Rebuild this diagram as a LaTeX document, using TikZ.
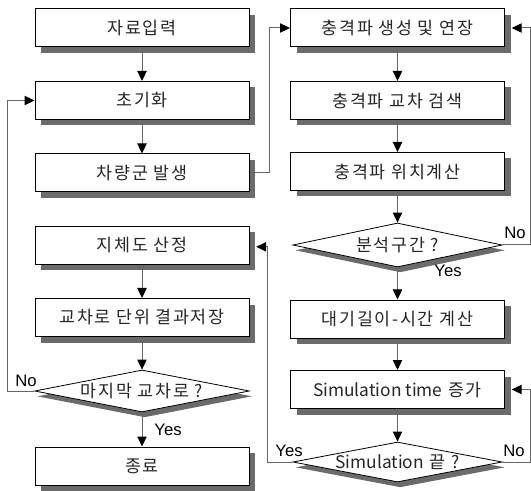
\documentclass[tikz,border=0pt]{standalone}
\usepackage{fontspec}
\setmainfont{Noto Sans CJK KR}[LetterSpace=10]
\newfontfamily\latn{Noto Sans CJK KR}
\newfontfamily\labfont{Liberation Sans}
\usetikzlibrary{shapes.geometric,shadows,arrows.meta}
\begin{document}
\begin{tikzpicture}[x=0.75pt,y=-0.75pt,
 box/.style={draw=black, line width=0.75pt, fill=white, minimum width=160.5pt, minimum height=28.5pt, inner sep=0pt,
   font=\fontsize{13}{15}\selectfont, text=black!85,
   drop shadow={shadow xshift=4.5pt, shadow yshift=-4.5pt, fill=black!58, opacity=1}},
 dia/.style={diamond, draw=black, line width=0.6pt, fill=white, inner sep=0pt,
   drop shadow={shadow xshift=2pt, shadow yshift=-4pt, fill=black!58, opacity=1}},
 dtext/.style={font=\fontsize{13}{15}\selectfont, inner sep=0pt, text=black!85},
 conn/.style={draw=black!60, line width=0.75pt, -{Triangle[length=7.5pt,width=7pt,color=black]}},
 lbl/.style={font=\labfont\fontsize{12.5}{14}\selectfont, inner sep=0pt}]
\useasboundingbox (0,0) rectangle (531,491);

% left column
\node[box] (b1) at (142,28) {자료입력};
\node[box] (b2) at (142,100.5) {초기화};
\node[box] (b3) at (142,173) {차량군 발생};
\node[box] (b4) at (142,245.5) {지체도 산정};
\node[box] (b5) at (142,317.5) {교차로 단위 결과저장};
\node[dia, minimum width=161pt, minimum height=31.5pt,
  label={[dtext]center:마지막 교차로 ?}] (dL) at (142,391) {};
\node[box] (b6) at (142,466) {종료};

% right column
\node[box] (r1) at (397.5,28) {충격파 생성 및 연장};
\node[box] (r2) at (397.5,100.5) {충격파 교차 검색};
\node[box] (r3) at (397.5,171.5) {충격파 위치계산};
\node[dia, minimum width=157pt, minimum height=33pt,
  label={[dtext]center:분석구간 ?}] (dR) at (397.5,245) {};
\node[box] (r4) at (397.5,319) {대기길이-시간 계산};
\node[box] (r5) at (397.5,389.5) {{\latn Simulation time} 증가};
\node[dia, minimum width=157pt, minimum height=30pt,
  label={[dtext]center:{\latn Simulation} 끝 ?}] (dS) at (397.5,462) {};

% straight connectors
\draw[conn] (b1.south) -- (b2.north);
\draw[conn] (b2.south) -- (b3.north);
\draw[conn] (b4.south) -- (b5.north);
\draw[conn] (b5.south) -- (dL.north);
\draw[conn] (dL.south) -- (b6.north);
\draw[conn] (r1.south) -- (r2.north);
\draw[conn] (r2.south) -- (r3.north);
\draw[conn] (r3.south) -- (dR.north);
\draw[conn] (dR.south) -- (r4.north);
\draw[conn] (r4.south) -- (r5.north);
\draw[conn] (r5.south) -- (dS.north);

% loops
\draw[conn] (b3.east) -- ++(20,0) |- (r1.west);
\draw[conn] (dR.east) -- ++(28,0) |- ([xshift=5pt]r1.east);
\draw[conn] (dS.east) -- ++(28,0) |- ([xshift=5pt]r5.east);
\draw[conn] (dS.west) -- ++(-25,0) |- ([xshift=5pt,yshift=-1pt]b4.east);
\draw[conn] (dL.west) -- ++(-27,0) |- (b2.west);

% labels
\node[lbl] (nL) at (26,381) {No};
\node[lbl] (yL) at (168,430) {Yes};
\node[lbl] (nR) at (515,233) {No};
\node[lbl] (yR) at (448,271) {Yes};
\node[lbl] (yS) at (289,451) {Yes};
\node[lbl] (nS) at (514,451) {No};
\end{tikzpicture}
\end{document}
